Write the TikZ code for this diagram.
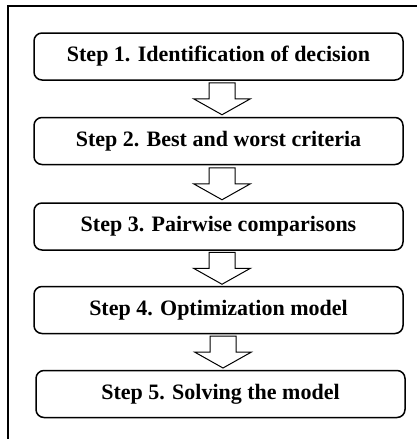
\documentclass[tikz,border=0pt]{standalone}
\usepackage{fontspec}
\setmainfont{Liberation Serif}
\usetikzlibrary{calc}
\begin{document}
\begin{tikzpicture}[x=1pt,y=-1pt,
  stepbox/.style={draw=black, line width=1.5pt, rounded corners=8pt, fill=white,
    minimum width=369pt, minimum height=47pt, inner sep=0pt,
    font=\fontsize{22}{24}\bfseries\selectfont},
  blockarrow/.style={draw=black, line width=1pt, fill=white, line join=miter}]
\clip (0,0) rectangle (417,439);
\fill[white] (0,0) rectangle (417,439);
\draw[line width=1.4pt] (8,445) -- (8,6) -- (425,6);
\node[stepbox] (s1) at (218.5,56.5) {Step 1. Identification of decision};
\node[stepbox] (s2) at (218.5,141) {Step 2. Best and worst criteria};
\node[stepbox] (s3) at (218.5,226.5) {Step 3. Pairwise comparisons};
\node[stepbox] (s4) at (218.5,310) {Step 4. Optimization model};
\node[stepbox] (s5) at (220.5,394) {Step 5. Solving the model};
\foreach \a/\b in {s1/s2,s2/s3,s3/s4,s4/s5}{
  \coordinate (m) at ($(\a.south)!0.5!(\b.north)+(3.5,0)$);
  \draw[blockarrow] ($(m)+(-13,-16)$) -- ($(m)+(13,-16)$) -- ($(m)+(13,0)$)
    -- ($(m)+(28.5,0)$) -- ($(m)+(0,16)$) -- ($(m)+(-28.5,0)$)
    -- ($(m)+(-13,0)$) -- cycle;
}
\end{tikzpicture}
\end{document}
